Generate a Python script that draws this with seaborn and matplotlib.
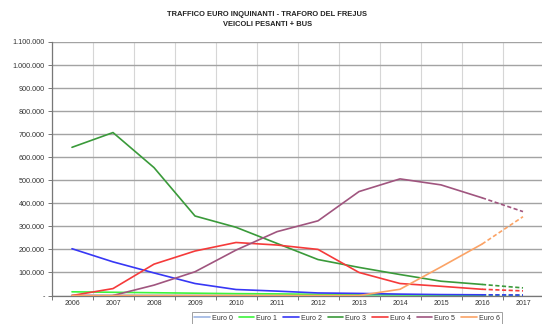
import numpy as np
import pandas as pd
import matplotlib
matplotlib.use("Agg")
import matplotlib.pyplot as plt
from matplotlib.ticker import FixedLocator, FuncFormatter
from matplotlib.lines import Line2D
import seaborn as sns

years = ["2006", "2007", "2008", "2009", "2010", "2011",
         "2012", "2013", "2014", "2015", "2016", "2017"]

euro0 = [2000, 1500, 1200, 1000, 800, 600, 500, 400, 300, 250, 200, 150]
euro1 = [16000, 14000, 12000, 10000, 8000, 7000, 5000, 4000, 3000, 2000, 1500, 1000]
euro2 = [203000, 146000, 98000, 52000, 26000, 19000, 11000, 9000, 6000, 4000, 3000, 2000]
euro3 = [643000, 707000, 555000, 345000, 296000, 226000, 156000, 122000, 91000, 62000, 48000, 33000]
euro4 = [0, 30000, 136000, 193000, 230000, 219000, 200000, 100000, 52000, 40000, 27000, 20000]
euro5 = [np.nan, 0, 45000, 103000, 197000, 277000, 324000, 451000, 506000, 480000, 424000, 364000]
euro6 = [0, 0, 0, 0, 0, 0, 0, 0, 27000, 124000, 223000, 342000]

series_names = ["Euro 0", "Euro 1", "Euro 2", "Euro 3", "Euro 4", "Euro 5", "Euro 6"]
series_values = [euro0, euro1, euro2, euro3, euro4, euro5, euro6]
colors = ["#9db5e3", "#3cf53c", "#3737f5", "#3a9a3a", "#f53a3a", "#a0557f", "#fba366"]

y_ticks = list(range(0, 1_100_001, 100_000))

sns.set_style("white")
plt.rcParams["font.family"] = ["Liberation Sans", "DejaVu Sans"]

fig = plt.figure(figsize=(5.42, 3.24), dpi=100)
ax = fig.add_axes([51.5 / 542, 1 - 295.5 / 324, 492 / 542, 253.5 / 324])

idx = np.arange(len(years))
rows = []
for name, vals in zip(series_names, series_values):
    for i, v in enumerate(vals):
        rows.append({"serie": name, "pos": i, "anno": years[i], "valore": v})
df = pd.DataFrame(rows)

# solid up to the second-last year, dashed forecast segment to the last year
last = len(years) - 1
for name, col in zip(series_names, colors):
    sub = df[df["serie"] == name]
    solid = sub[sub["pos"] <= last - 1].dropna()
    dashed = sub[sub["pos"] >= last - 1].dropna()
    sns.lineplot(data=solid, x="pos", y="valore", color=col, lw=1.2,
                 ax=ax, legend=False, zorder=3)
    sns.lineplot(data=dashed, x="pos", y="valore", color=col, lw=1.2,
                 ax=ax, legend=False, zorder=3, linestyle=(0, (2.5, 1.5)))

ax.set_xlim(-0.5, len(years) - 0.5)
ax.set_ylim(0, 1_100_000)
ax.set_xlabel("")
ax.set_ylabel("")

ax.xaxis.set_major_locator(FixedLocator(idx))
ax.set_xticklabels(years)
ax.xaxis.set_minor_locator(FixedLocator(np.arange(-0.5, len(years), 1.0)))
ax.yaxis.set_major_locator(FixedLocator(y_ticks))


def fmt_it(v, _pos):
    if v == 0:
        return "-"
    return f"{int(v):,}".replace(",", ".")


ax.yaxis.set_major_formatter(FuncFormatter(fmt_it))

ax.grid(False)
ax.grid(axis="y", which="major", color="#a3a3a3", lw=1.0, zorder=1)
ax.grid(axis="x", which="minor", color="#d6d6d6", lw=0.8, zorder=1)

ax.tick_params(axis="x", which="major", length=0, labelsize=5.0,
               labelcolor="#333333", pad=3)
ax.tick_params(axis="x", which="minor", length=3, color="#777777", width=0.7,
               direction="out", bottom=True)
ax.tick_params(axis="y", which="major", length=3, color="#777777", width=0.7,
               direction="out", left=True, labelsize=5.2, labelcolor="#333333", pad=2)

for side in ["top", "right"]:
    ax.spines[side].set_visible(False)
for side in ["left", "bottom"]:
    ax.spines[side].set_color("#777777")
    ax.spines[side].set_linewidth(0.9)

fig.text(0.493, 1 - 15 / 324, "TRAFFICO EURO INQUINANTI - TRAFORO DEL FREJUS",
         ha="center", va="center", fontsize=5.4, fontweight="bold", color="#222222")
fig.text(0.493, 1 - 24 / 324, "VEICOLI PESANTI + BUS",
         ha="center", va="center", fontsize=5.4, fontweight="bold", color="#222222")

handles = [Line2D([0], [0], color=c, lw=1.2) for c in colors]
leg = fig.legend(handles, series_names, loc="center", bbox_to_anchor=(347 / 542, 1 - 318 / 324),
                 ncol=7, fontsize=5.0, frameon=True, fancybox=False,
                 handlelength=2.2, handletextpad=0.3, columnspacing=0.9,
                 borderpad=0.35, edgecolor="#888888")
leg.get_frame().set_linewidth(0.7)
for t in leg.get_texts():
    t.set_color("#333333")

fig.savefig("out.png", dpi=100)
